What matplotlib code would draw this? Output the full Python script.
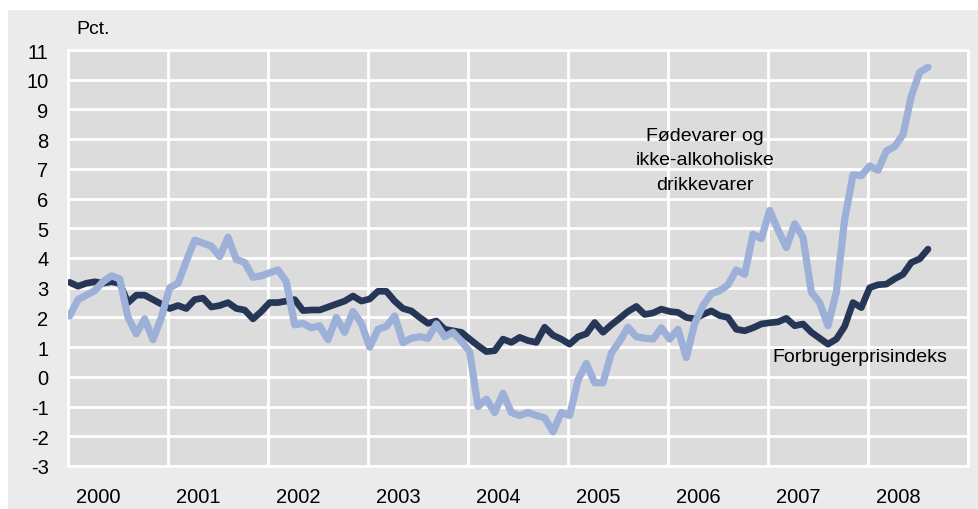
import matplotlib
matplotlib.use("Agg")
import matplotlib.pyplot as plt
import numpy as np

plt.rcParams['font.family'] = ['Liberation Sans', 'DejaVu Sans']

# Monthly data, Jan 2000 - Aug 2008 (annual % change)
cpi = [3.18, 3.05, 3.15, 3.2, 3.15, 3.2, 3.15, 2.5, 2.75, 2.75, 2.6, 2.45,
       2.3, 2.4, 2.3, 2.6, 2.65, 2.35, 2.4, 2.5, 2.3, 2.25, 1.95, 2.2,
       2.5, 2.5, 2.55, 2.6, 2.23, 2.25, 2.25, 2.35, 2.45, 2.55, 2.72, 2.55,
       2.62, 2.88, 2.88, 2.55, 2.3, 2.22, 2.0, 1.8, 1.88, 1.6, 1.55, 1.5,
       1.27, 1.05, 0.85, 0.88, 1.27, 1.16, 1.33, 1.22, 1.16, 1.67, 1.4, 1.27,
       1.1, 1.35, 1.45, 1.83, 1.5, 1.75, 1.97, 2.2, 2.37, 2.1, 2.15, 2.28,
       2.2, 2.17, 2.0, 1.95, 2.1, 2.22, 2.06, 2.0, 1.6, 1.55, 1.65, 1.78,
       1.82, 1.85, 1.97, 1.72, 1.78, 1.5, 1.3, 1.1, 1.27, 1.7, 2.5, 2.33,
       3.0, 3.1, 3.12, 3.3, 3.45, 3.85, 3.97, 4.3]

food = [2.05, 2.6, 2.75, 2.9, 3.2, 3.4, 3.3, 2.0, 1.45, 1.95, 1.25, 2.0,
        3.0, 3.15, 3.9, 4.6, 4.5, 4.4, 4.05, 4.7, 3.95, 3.85, 3.35, 3.4,
        3.5, 3.6, 3.2, 1.75, 1.8, 1.65, 1.72, 1.25, 2.0, 1.5, 2.2, 1.8,
        1.0, 1.6, 1.7, 2.05, 1.15, 1.3, 1.35, 1.3, 1.78, 1.35, 1.5, 1.2,
        0.85, -1.0, -0.75, -1.2, -0.55, -1.2, -1.3, -1.2, -1.3, -1.38, -1.85, -1.2,
        -1.3, -0.1, 0.45, -0.2, -0.2, 0.8, 1.2, 1.67, 1.35, 1.3, 1.27, 1.65,
        1.27, 1.6, 0.65, 1.8, 2.4, 2.8, 2.9, 3.1, 3.6, 3.45, 4.8, 4.65,
        5.6, 4.95, 4.35, 5.15, 4.7, 2.85, 2.5, 1.72, 2.85, 5.3, 6.8, 6.77,
        7.1, 6.95, 7.6, 7.75, 8.15, 9.45, 10.25, 10.42]

years = list(range(2000, 2009))
year_labels = [str(y) for y in years]
yticks = list(range(-3, 12))
label_food = "Fødevarer og\nikke-alkoholiske\ndrikkevarer"
label_cpi = "Forbrugerprisindeks"

x = 2000 + (np.arange(len(cpi)) + 0.2) / 12.0

W, H = 979, 510
fig = plt.figure(figsize=(W / 100, H / 100), dpi=100)
fig.patch.set_facecolor('white')
# gray frame
fig.add_artist(plt.Rectangle((8 / W, 0), 1 - 8 / W, 1 - 11 / H,
                             transform=fig.transFigure, facecolor='#ebebeb',
                             edgecolor='none', zorder=0))

ax = fig.add_axes([68 / W, 1 - 467 / H, 900 / W, (467 - 51) / H])
ax.set_facecolor('#dcdcdc')
ax.set_xlim(2000, 2009)
ax.set_ylim(-3, 11)

FS = 14.5
ax.set_xticks(years + [2009])
ax.set_xticklabels([])
ax.set_xticks([y + 0.3 for y in years], minor=True)
ax.set_xticklabels(year_labels, minor=True)
ax.set_yticks(yticks)
ax.set_yticklabels([str(v) for v in yticks])
ax.tick_params(axis='both', which='both', length=0)
ax.tick_params(axis='y', pad=14, labelsize=FS, colors='black')
ax.tick_params(axis='x', which='minor', pad=15, labelsize=FS)
ax.grid(True, which='major', color='white', linewidth=2)
ax.set_axisbelow(True)
for s in ax.spines.values():
    s.set_color('white')
    s.set_linewidth(2)

ax.plot(x, cpi, color='#263656', linewidth=4.8, solid_joinstyle='round',
        solid_capstyle='round', zorder=3)
ax.plot(x, food, color='#9db1d8', linewidth=5.2, solid_joinstyle='round',
        solid_capstyle='round', zorder=4)

ax.text(2006.37, 7.3, label_food, ha='center', va='center', fontsize=14,
        linespacing=1.6, zorder=5)
ax.text(2007.92, 0.7, label_cpi, ha='center', va='center', fontsize=14, zorder=5)

fig.text(76 / W, 1 - 30 / H, "Pct.", ha='left', va='center', fontsize=14)

fig.savefig("out.png", dpi=100, facecolor=fig.get_facecolor())
